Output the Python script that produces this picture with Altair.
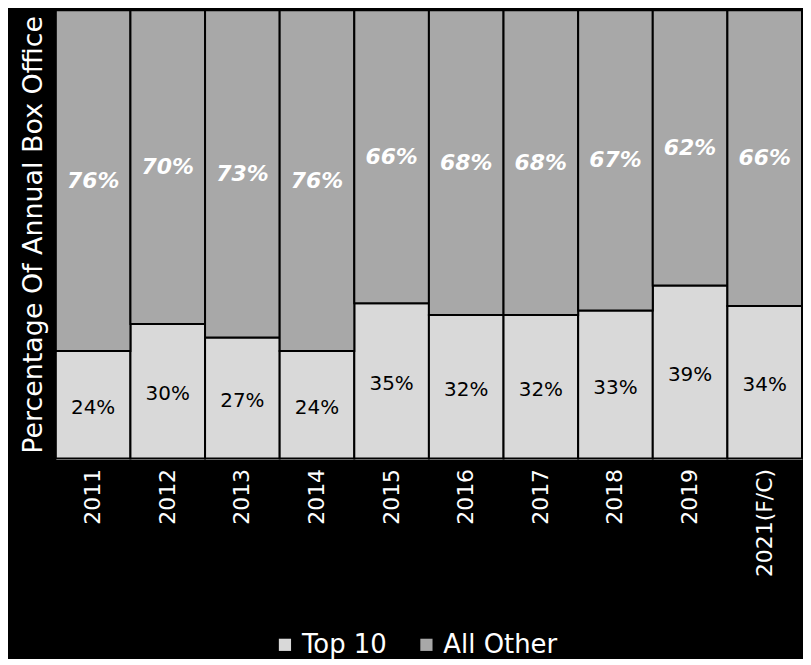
import altair as alt
import pandas as pd

years = ["2011", "2012", "2013", "2014", "2015", "2016", "2017", "2018", "2019", "2021(F/C)"]
top10 = [24, 30, 27, 24, 35, 32, 32, 33, 39, 34]
all_other = [76, 70, 73, 76, 66, 68, 68, 67, 62, 66]
series = ["Top 10", "All Other"]
colors = ["#d9d9d9", "#a8a8a8"]

rows = []
for i, y in enumerate(years):
    rows.append({"year": y, "series": series[0], "value": top10[i], "order": 0})
    rows.append({"year": y, "series": series[1], "value": all_other[i], "order": 1})
df = pd.DataFrame(rows)

FONT = "DejaVu Sans"

base = alt.Chart(df).transform_stack(
    stack="value", groupby=["year"], sort=[alt.SortField("order")],
    as_=["y0", "y1"], offset="normalize"
).transform_calculate(
    mid="(datum.y0 + datum.y1) / 2",
    label="datum.value + '%'"
)

xenc = alt.X("year:N", sort=years, scale=alt.Scale(paddingInner=0, paddingOuter=0),
             axis=alt.Axis(title=None, labelAngle=-90, labelColor="white", labelFontSize=22,
                           labelFont=FONT, ticks=False, domain=True, domainColor="#dddddd",
                           domainWidth=2, labelPadding=10))
yscale = alt.Scale(domain=[0, 1])

bars = base.mark_bar(stroke="black", strokeWidth=2).encode(
    x=xenc,
    y=alt.Y("y0:Q", scale=yscale,
            axis=alt.Axis(title="Percentage Of Annual Box Office", titleColor="white",
                          titleFontSize=27, titleFont=FONT, titleFontWeight="normal",
                          labels=False, ticks=False, domain=False, grid=False,
                          titlePadding=8)),
    y2="y1:Q",
    color=alt.Color("series:N", sort=series,
                    scale=alt.Scale(domain=series, range=colors),
                    legend=alt.Legend(title=None, orient="none", direction="horizontal",
                                      legendX=217, legendY=624,
                                      symbolType="square", symbolSize=150,
                                      symbolStrokeWidth=0,
                                      labelColor="white", labelFontSize=26, labelFont=FONT,
                                      columnPadding=26)),
    order=alt.Order("order:Q"),
)

text_top = base.transform_filter("datum.series == 'Top 10'").mark_text(
    color="black", fontSize=20, font=FONT, dy=3
).encode(x=alt.X("year:N", sort=years), y=alt.Y("mid:Q", scale=yscale), text="label:N")

text_other = base.transform_filter("datum.series == 'All Other'").mark_text(
    color="white", fontSize=22, font=FONT, fontStyle="italic", fontWeight="bold"
).encode(x=alt.X("year:N", sort=years), y=alt.Y("mid:Q", scale=yscale), text="label:N")

chart = alt.layer(bars, text_top, text_other).properties(
    width=749, height=450, background="black",
    padding={"left": 12, "top": 0, "right": 0, "bottom": 0}
).configure_view(stroke=None)

chart.save("out.html", embed_options={"renderer": "svg", "actions": False})
